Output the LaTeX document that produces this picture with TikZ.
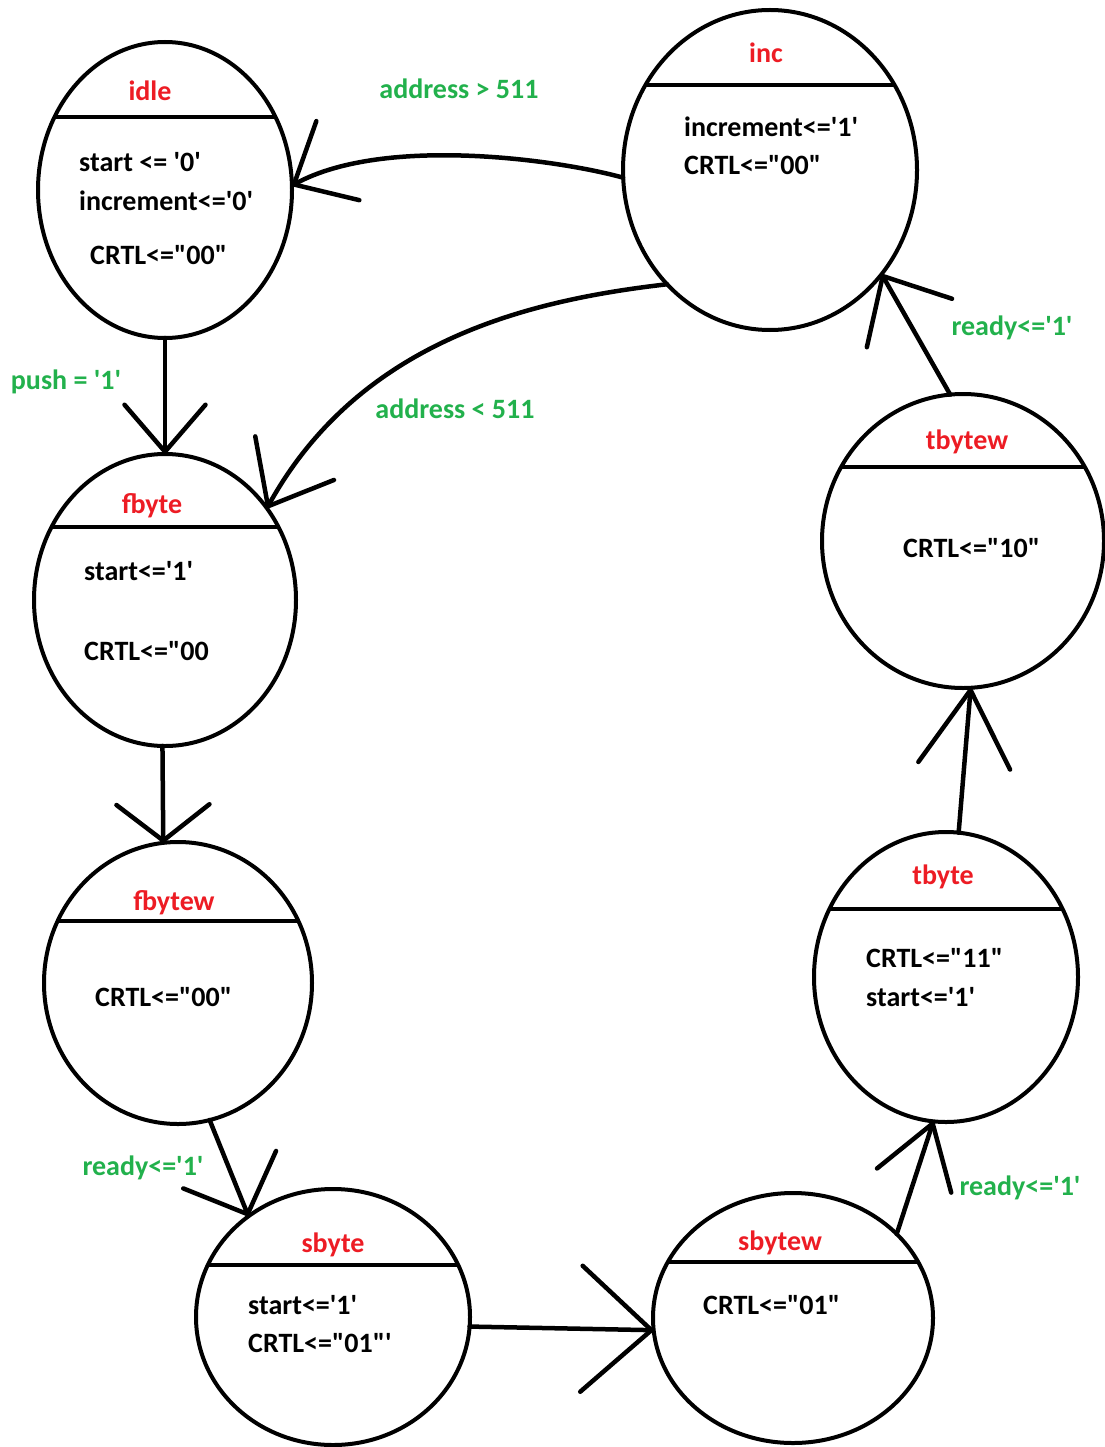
\documentclass[tikz,border=0pt]{standalone}
\usepackage{fontspec}
\newfontfamily\calfont{Carlito}
\usetikzlibrary{shapes.geometric,arrows.meta}
\definecolor{pred}{RGB}{237,28,36}
\definecolor{pgreen}{RGB}{34,177,76}
\newcommand\fsmstate[6]{%
  \node[fsm, minimum width={2*#4pt}, minimum height={2*#5pt}] (#1) at (#2,#3) {};
  \begin{scope}
    \clip (#2,#3) ellipse [x radius=#4pt, y radius=#5pt];
    \draw[divider] (#2-#4,#6) -- (#2+#4,#6);
  \end{scope}}
\begin{document}
\begin{tikzpicture}[x=1pt,y=-1pt,
  fsm/.style={ellipse, draw, line width=4pt, inner sep=0pt, outer sep=0pt},
  divider/.style={line width=4pt},
  txt/.style={font=\calfont\bfseries\fontsize{28}{32}\selectfont, inner sep=0pt, text height=18pt, text depth=0pt},
  body/.style={txt, anchor=west},
  ttl/.style={txt, text=pred},
  cond/.style={txt, text=pgreen},
  conn/.style 2 args={line width=4.5pt, line cap=round, line join=round, arrows={-{Straight Barb[length=#1pt,width=#2pt,round]}}}
]
\useasboundingbox[fill=white] (0,0) rectangle (1104,1447);

% states
\fsmstate{idle}{165}{190}{127}{148}{117}
\fsmstate{inc}{770}{170}{147}{160}{85}
\fsmstate{fbyte}{165}{600}{131}{146}{527}
\fsmstate{fbytew}{178}{983}{134}{141}{921}
\fsmstate{sbyte}{333}{1317}{137}{128}{1265}
\fsmstate{sbytew}{793}{1318}{140}{125}{1262}
\fsmstate{tbyte}{946}{977}{132}{145}{909}
\fsmstate{tbytew}{963}{541}{141}{147}{467}

% titles
\node[ttl] (idle-t) at (150,92) {idle};
\node[ttl] (inc-t) at (766,54) {inc};
\node[ttl] (fbyte-t) at (152,504) {fbyte};
\node[ttl] (fbytew-t) at (174,901) {fbytew};
\node[ttl] (sbyte-t) at (333,1243) {sbyte};
\node[ttl] (sbytew-t) at (780,1241) {sbytew};
\node[ttl] (tbyte-t) at (943,875) {tbyte};
\node[ttl] (tbytew-t) at (967,440) {tbytew};

% bodies
\node[body] (idle-b1) at (79,163) {start <= '0'};
\node[body] (idle-b2) at (79,202) {increment<='0'};
\node[body] (idle-b3) at (90,256) {CRTL<="00"};
\node[body] (inc-b1) at (684,128) {increment<='1'};
\node[body] (inc-b2) at (684,166) {CRTL<="00"};
\node[body] (fbyte-b1) at (84,571) {start<='1'};
\node[body] (fbyte-b2) at (84,651) {CRTL<="00};
\node[body] (fbytew-b1) at (95,997) {CRTL<="00"};
\node[body] (sbyte-b1) at (248,1305) {start<='1'};
\node[body] (sbyte-b2) at (248,1343) {CRTL<="01"'};
\node[body] (sbytew-b1) at (703,1305) {CRTL<="01"};
\node[body] (tbyte-b1) at (866,958) {CRTL<="11"};
\node[body] (tbyte-b2) at (866,997) {start<='1'};
\node[body] (tbytew-b1) at (903,548) {CRTL<="10"};

% connectors
\draw[conn={47}{81}] (idle.south) -- (fbyte.north);
\draw[conn={36}{93}] (fbyte.-91) -- (fbytew.96);
\draw[conn={48}{100}] (fbytew.-77) -- (sbyte.130);
\draw[conn={70}{126}] (sbyte.-4) -- (sbytew.185);
\draw[conn={60}{78}] (sbytew.39) -- (tbyte.-95);
\draw[conn={76}{92}] (tbyte.85) -- (tbytew.-87);
\draw[conn={54}{98}] (tbytew.95) -- (inc.-43);
\draw[conn={50}{90}] (inc.183) .. controls (560,160) and (385,135) .. (idle.2);
\draw[conn={55}{90}] (inc.228) .. controls (530,300) and (360,340) .. (fbyte.42);

% conditions
\node[cond] (c-gt) at (459,90) {address > 511};
\node[cond] (c-lt) at (455,409) {address < 511};
\node[cond] (c-push) at (66,380) {push = '1'};
\node[cond] (c-r1) at (143,1166) {ready<='1'};
\node[cond] (c-r2) at (1020,1186) {ready<='1'};
\node[cond] (c-r3) at (1012,326) {ready<='1'};
\end{tikzpicture}
\end{document}
